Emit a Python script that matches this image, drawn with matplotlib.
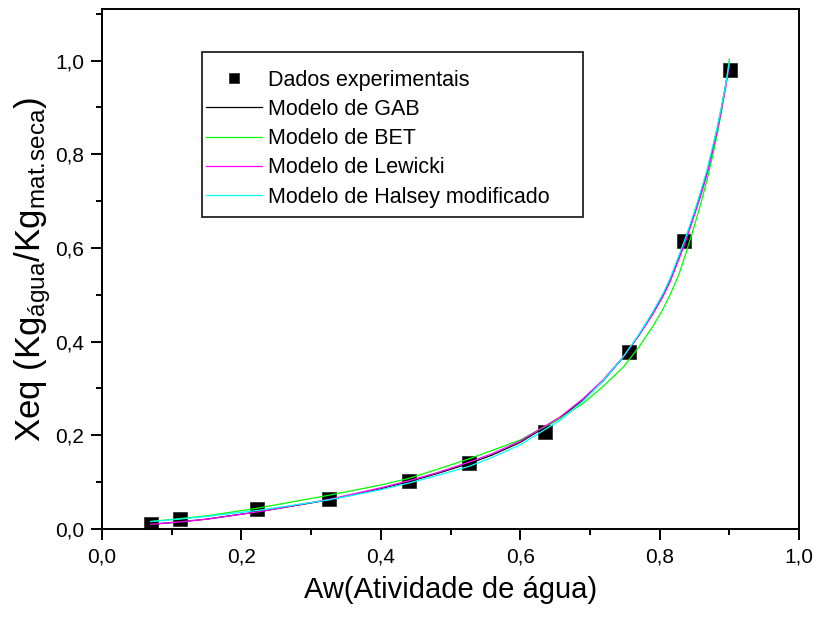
import matplotlib
matplotlib.use("Agg")
import matplotlib.pyplot as plt
from matplotlib.ticker import MultipleLocator, FuncFormatter
from matplotlib.patches import Rectangle

plt.rcParams['font.family'] = ['Liberation Sans', 'DejaVu Sans']
plt.rcParams['mathtext.fontset'] = 'custom'
plt.rcParams['mathtext.rm'] = 'Liberation Sans'
plt.rcParams['mathtext.it'] = 'Liberation Sans'

# experimental sorption points
aw_exp = [0.070, 0.112, 0.223, 0.325, 0.440, 0.527, 0.636, 0.756, 0.835, 0.901]
xeq_exp = [0.011, 0.021, 0.043, 0.064, 0.102, 0.141, 0.207, 0.377, 0.615, 0.979]

# fitted model curves, sampled along water activity
aw_fit = [0.07, 0.11, 0.15, 0.225, 0.325, 0.40, 0.44, 0.48, 0.527, 0.56, 0.60,
          0.657, 0.69, 0.72, 0.748, 0.77, 0.79, 0.805, 0.815, 0.828, 0.838,
          0.85, 0.86, 0.868, 0.875, 0.882, 0.888, 0.895, 0.90]
gab = [0.010, 0.015, 0.021, 0.037, 0.062, 0.086, 0.101, 0.118, 0.140, 0.158, 0.185,
       0.237, 0.275, 0.318, 0.367, 0.413, 0.460, 0.500, 0.531, 0.582, 0.622,
       0.675, 0.722, 0.762, 0.805, 0.850, 0.893, 0.950, 0.995]
bet = [0.016, 0.022, 0.028, 0.045, 0.072, 0.094, 0.108, 0.127, 0.150, 0.168, 0.190,
       0.236, 0.268, 0.306, 0.346, 0.388, 0.432, 0.470, 0.500, 0.545, 0.590,
       0.648, 0.700, 0.745, 0.790, 0.838, 0.885, 0.948, 1.003]
lewicki = [0.010, 0.015, 0.021, 0.037, 0.063, 0.088, 0.103, 0.120, 0.143, 0.161, 0.188,
           0.239, 0.278, 0.320, 0.368, 0.413, 0.458, 0.497, 0.528, 0.577, 0.617,
           0.670, 0.716, 0.757, 0.800, 0.845, 0.888, 0.944, 0.990]
halsey = [0.016, 0.021, 0.027, 0.040, 0.062, 0.084, 0.098, 0.114, 0.134, 0.153, 0.180,
          0.232, 0.273, 0.318, 0.368, 0.415, 0.463, 0.503, 0.535, 0.585, 0.625,
          0.678, 0.726, 0.767, 0.810, 0.854, 0.897, 0.950, 0.997]

labels = ["Dados experimentais", "Modelo de GAB", "Modelo de BET",
          "Modelo de Lewicki", "Modelo de Halsey modificado"]

fig = plt.figure(figsize=(8.18, 6.17), dpi=100)
ax = fig.add_axes([0.1247, 0.1426, 0.8521, 0.8428])

ax.plot(aw_exp, xeq_exp, 's', color='black', markersize=9.5,
        markeredgecolor='#333333', markeredgewidth=0.6, label=labels[0], zorder=2)
ax.plot(aw_fit, gab, '-', color='black', lw=0.9, label=labels[1], zorder=3)
ax.plot(aw_fit, bet, '-', color='#00ff00', lw=0.9, label=labels[2], zorder=3)
ax.plot(aw_fit, lewicki, '-', color='#ff00ff', lw=0.9, label=labels[3], zorder=3)
ax.plot(aw_fit, halsey, '-', color='#00ffff', lw=0.9, label=labels[4], zorder=3)

ax.set_xlim(0, 1.0)
ax.set_ylim(0, 1.11)
ax.xaxis.set_major_locator(MultipleLocator(0.2))
ax.xaxis.set_minor_locator(MultipleLocator(0.1))
ax.yaxis.set_major_locator(MultipleLocator(0.2))
ax.yaxis.set_minor_locator(MultipleLocator(0.1))
comma = FuncFormatter(lambda v, p: f"{v:.1f}".replace('.', ','))
ax.xaxis.set_major_formatter(comma)
ax.yaxis.set_major_formatter(comma)

ax.tick_params(which='major', direction='out', length=8, width=1.4,
               labelsize=15, pad=5)
ax.tick_params(which='minor', direction='out', length=4.5, width=1.4)
for s in ax.spines.values():
    s.set_linewidth(1.4)

ax.set_xlabel("Aw(Atividade de água)", fontsize=21, labelpad=7)
ax.set_ylabel(r"Xeq (Kg$_{\mathrm{água}}$/Kg$_{\mathrm{mat.\!seca}}$)",
              fontsize=25, labelpad=1)

leg = ax.legend(loc='upper left', bbox_to_anchor=(0.149, 0.883),
                frameon=False, fontsize=15.5, handlelength=2.6,
                handletextpad=0.3, labelspacing=0.38, borderpad=0,
                borderaxespad=0, markerscale=0.8)
ax.add_patch(Rectangle((0.1435, 0.600), 0.547, 0.317, transform=ax.transAxes,
                       fill=False, edgecolor='#222222', lw=1.3, zorder=4))

fig.savefig("out.png", dpi=100)
